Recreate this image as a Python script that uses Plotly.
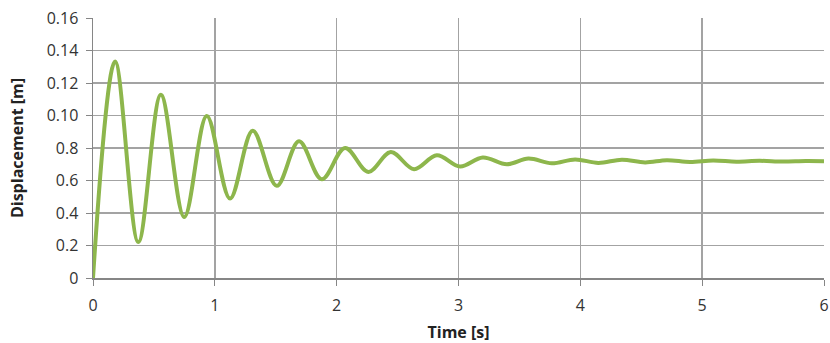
import plotly.graph_objects as go

# Time [s] and displacement [m] (start, peaks, troughs, end)
time_s = [0.0, 0.181, 0.372, 0.557, 0.749, 0.934, 1.125, 1.311, 1.508, 1.691, 1.878,
          2.069, 2.26, 2.444, 2.635, 2.822, 3.013, 3.199, 3.397, 3.574, 3.766, 3.957,
          4.148, 4.341, 4.532, 4.710, 4.90, 5.09, 5.28, 5.47, 5.66, 5.85, 6.0]
displacement = [0.0, 0.1332, 0.0221, 0.1127, 0.0375, 0.0997, 0.0489, 0.0906, 0.0567,
                0.0841, 0.0608, 0.0800, 0.0653, 0.0775, 0.0670, 0.0755, 0.0686, 0.0742,
                0.0700, 0.0735, 0.0706, 0.0730, 0.0708, 0.0728, 0.0711, 0.0725, 0.0714,
                0.0723, 0.0716, 0.0721, 0.0717, 0.0720, 0.0719]

y_tickvals = [0, 0.02, 0.04, 0.06, 0.08, 0.10, 0.12, 0.14, 0.16]
y_ticktext = ["0", "0.2", "0.4", "0.6", "0.8", "0.10", "0.12", "0.14", "0.16"]
x_tickvals = [0, 1, 2, 3, 4, 5, 6]

fig = go.Figure()
fig.add_trace(go.Scatter(
    x=time_s, y=displacement, mode="lines",
    line=dict(color="#8db64c", width=4, shape="spline", smoothing=1.0),
    hoverinfo="skip", showlegend=False,
))

grid = "#a3a3a3"
fig.update_layout(
    width=830, height=343,
    margin=dict(l=93, r=6, t=18, b=65, autoexpand=False),
    paper_bgcolor="white", plot_bgcolor="white",
    font=dict(family="Open Sans, Liberation Sans, sans-serif", color="#333333", size=16),
    xaxis=dict(
        range=[0, 6], tickvals=x_tickvals, ticks="outside", ticklen=6,
        tickcolor="#868686", showgrid=True, gridcolor=grid, gridwidth=1.5,
        showline=True, linecolor="#868686", linewidth=1.5, zeroline=False,
        automargin=False, ticklabelstandoff=6, ticklabeloverflow="allow",
        title=dict(text="<b>Time [s]</b>", font=dict(size=16, color="#222222"), standoff=17),
    ),
    yaxis=dict(
        range=[0, 0.16], tickvals=y_tickvals, ticktext=y_ticktext, ticks="outside",
        ticklen=6, tickcolor="#868686", showgrid=True, gridcolor=grid, gridwidth=1.5,
        showline=True, linecolor="#868686", linewidth=1.5, zeroline=False,
        automargin=False, ticklabelstandoff=4, ticklabeloverflow="allow",
        title=dict(text="<b>Displacement [m]</b>", font=dict(size=16, color="#222222"), standoff=19),
    ),
)

fig.write_html("out.html",
               config={"displayModeBar": False, "staticPlot": True},
               post_script="document.body.style.margin='0';document.body.style.overflow='hidden';")
